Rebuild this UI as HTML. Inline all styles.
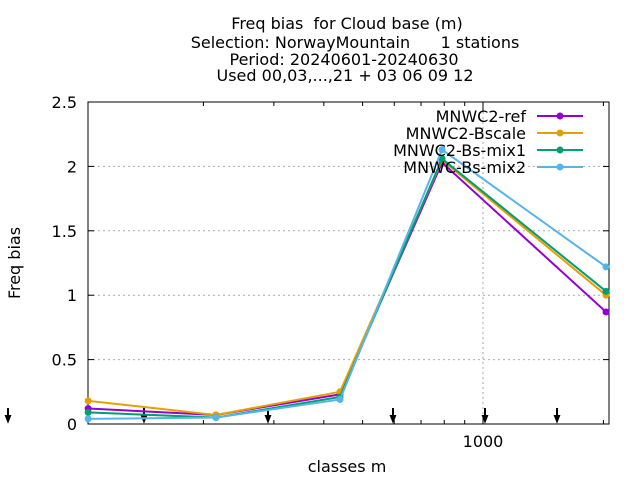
<!DOCTYPE html>
<html><head><meta charset="utf-8"><style>body{margin:0;background:#fff}svg text{font-family:"DejaVu Sans","Liberation Sans",sans-serif;fill:#000;white-space:pre}</style></head>
<body>
<svg id="c" width="640" height="480" xmlns="http://www.w3.org/2000/svg">
<g font-size="16" text-anchor="middle">
<text x="347" y="29">Freq bias  for Cloud base (m)</text>
<text x="355" y="48">Selection: NorwayMountain      1 stations</text>
<text x="344" y="65">Period: 20240601-20240630</text>
<text x="345" y="81">Used 00,03,...,21 + 03 06 09 12</text>
</g>
<text x="20" y="263" font-size="16" text-anchor="middle" transform="rotate(-90 20 263)">Freq bias</text>
<text x="347" y="472" font-size="16" text-anchor="middle">classes m</text>
<g id="grid"></g><g id="axes"></g><g id="series"></g><g id="legend"></g>
</svg>
<script>
const categories=[103,215,439,790,2030];
const yTicks=[0,0.5,1,1.5,2,2.5];
const yTickLabels=["0","0.5","1","1.5","2","2.5"];
const xMinor=[200,300,400,500,600,700,800,900,1000,2000];
const seriesNames=["MNWC2-ref","MNWC2-Bscale","MNWC2-Bs-mix1","MNWC-Bs-mix2"];
const refVals=[0.12,0.07,0.23,2.03,0.87];
const bscaleVals=[0.18,0.07,0.25,2.05,1.00];
const mix1Vals=[0.09,0.05,0.21,2.06,1.03];
const mix2Vals=[0.04,0.05,0.19,2.13,1.22];
const colors=["#9400d3","#e69f00","#009e73","#56b4e9"];
const L=88,R=609,T=102,B=424,K=400;
const xs=v=>483+K*Math.log10(v/1000);
const ys=v=>B-(B-T)*v/2.5;
const NS="http://www.w3.org/2000/svg";
function mk(p,t,a){const e=document.createElementNS(NS,t);for(const k in a)e.setAttribute(k,a[k]);p.appendChild(e);return e;}
const grid=document.getElementById('grid'),axes=document.getElementById('axes'),ser=document.getElementById('series'),leg=document.getElementById('legend');
yTicks.forEach((v,i)=>{const y=ys(v);
 if(i>0&&i<yTicks.length-1){const g=mk(grid,'line',{x1:L,x2:R,y1:y,y2:y,stroke:'#aaa','stroke-dasharray':'2,3'});
 
 }
 mk(axes,'line',{x1:L,x2:L+6,y1:y,y2:y,stroke:'#000'});mk(axes,'line',{x1:R,x2:R-6,y1:y,y2:y,stroke:'#000'});
 const t=mk(axes,'text',{x:77,y:y+6,'font-size':16,'text-anchor':'end'});t.textContent=yTickLabels[i];
 
 });
xMinor.forEach(v=>{const x=xs(v);if(x<L||x>R)return;const big=v===1000;
 mk(axes,'line',{x1:x,x2:x,y1:B,y2:B-(big?9:4),stroke:'#000'});mk(axes,'line',{x1:x,x2:x,y1:T,y2:T+(big?9:4),stroke:'#000'});
 if(big){const g=mk(grid,'line',{x1:x,x2:x,y1:T,y2:B,stroke:'#aaa','stroke-dasharray':'2,3'});
 
 
 const t=mk(axes,'text',{x:x,y:447,'font-size':16,'text-anchor':'middle'});t.textContent='1000';
 
 }});
mk(axes,'rect',{x:L,y:T,width:R-L,height:B-T,fill:'none',stroke:'#000'});
[8,144,268,393,485,557].forEach(x=>{const a=mk(axes,'path',{d:`M${x} 408V420M${x-2} 416L${x} 421L${x+2} 416Z`,stroke:'#000','stroke-width':2,fill:'#000'});
 
 });
[refVals,bscaleVals,mix1Vals,mix2Vals].forEach((vals,si)=>{
 const g=mk(ser,'g',{});
 
 
 mk(g,'polyline',{points:vals.map((v,i)=>xs(categories[i])+','+ys(v)).join(' '),fill:'none',stroke:colors[si],'stroke-width':2});
 vals.forEach((v,i)=>{const p=mk(g,'circle',{cx:xs(categories[i]),cy:ys(v),r:3.5,fill:colors[si]});
 
 });
 const y=116+si*17;const e=mk(leg,'g',{});
 
 
 const t=mk(e,'text',{x:526,y:y+6,'font-size':16,'text-anchor':'end'});t.textContent=seriesNames[si];
 mk(e,'line',{x1:537,x2:583,y1:y,y2:y,stroke:colors[si],'stroke-width':2});
 mk(e,'circle',{cx:560,cy:y,r:3.5,fill:colors[si]});});
</script>
</body></html>
